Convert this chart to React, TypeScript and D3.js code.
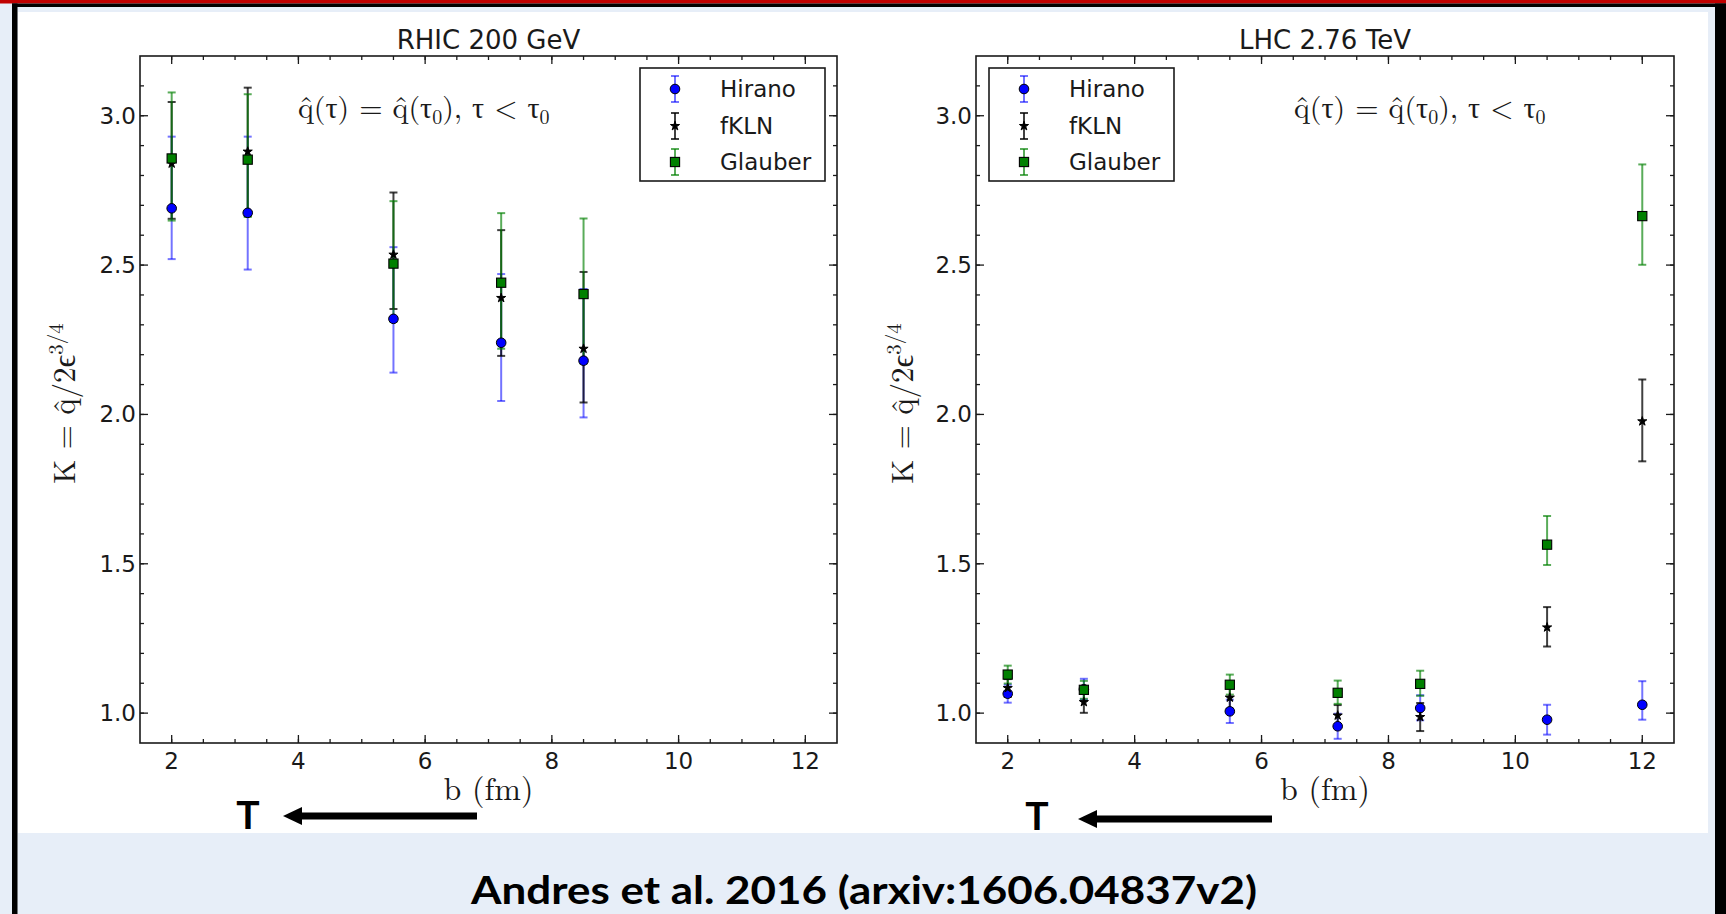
import React from 'react';
import * as d3 from 'd3';

const W = 1726;
const H = 914;

// impact parameter values (fm)
const bRHIC = [2, 3.2, 5.5, 7.2, 8.5];
const bLHC = [2, 3.2, 5.5, 7.2, 8.5, 10.5, 12];

// RHIC 200 GeV
const hiranoRHIC = [2.69, 2.675, 2.32, 2.24, 2.18];
const hiranoRHICLo = [2.52, 2.485, 2.14, 2.045, 1.99];
const hiranoRHICHi = [2.93, 2.93, 2.56, 2.47, 2.42];
const fklnRHIC = [2.84, 2.88, 2.535, 2.39, 2.22];
const fklnRHICLo = [2.655, 2.665, 2.353, 2.196, 2.04];
const fklnRHICHi = [3.046, 3.094, 2.743, 2.617, 2.477];
const glauberRHIC = [2.857, 2.853, 2.505, 2.441, 2.403];
const glauberRHICLo = [2.649, 2.661, 2.31, 2.22, 2.17];
const glauberRHICHi = [3.078, 3.072, 2.714, 2.674, 2.656];

// LHC 2.76 TeV
const hiranoLHC = [1.065, 1.08, 1.006, 0.956, 1.017, 0.978, 1.028];
const hiranoLHCLo = [1.035, 1.045, 0.967, 0.914, 0.976, 0.928, 0.978];
const hiranoLHCHi = [1.095, 1.115, 1.045, 0.998, 1.06, 1.028, 1.107];
const fklnLHC = [1.084, 1.037, 1.052, 0.992, 0.987, 1.287, 1.977];
const fklnLHCLo = [1.054, 1.001, 1.015, 0.957, 0.94, 1.223, 1.843];
const fklnLHCHi = [1.114, 1.073, 1.089, 1.027, 1.034, 1.355, 2.117];
const glauberLHC = [1.129, 1.078, 1.095, 1.068, 1.098, 1.564, 2.664];
const glauberLHCLo = [1.099, 1.048, 1.062, 1.031, 1.058, 1.496, 2.501];
const glauberLHCHi = [1.159, 1.108, 1.129, 1.109, 1.142, 1.66, 2.837];

const xMajorTicks = [2, 4, 6, 8, 10, 12];
const yMajorTicks = [1.0, 1.5, 2.0, 2.5, 3.0];
const seriesNames = ['Hirano', 'fKLN', 'Glauber'];
const seriesColors = ['#0000ff', '#000000', '#008000'];
const seriesMarkers = ['circle', 'star', 'square'];
const panelTitles = ['RHIC 200 GeV', 'LHC 2.76 TeV'];
const citation = 'Andres et al. 2016 (arxiv:1606.04837v2)';

const xDomain = [1.5, 12.5];
const yDomain = [0.9, 3.2];
const plotTop = 56;
const plotBottom = 743;

const sans = "'DejaVu Sans', Verdana, sans-serif";
const serif = "'Latin Modern Roman', 'CMU Serif', 'Liberation Serif', 'DejaVu Serif', serif";

type Series = { xs: number[]; ys: number[]; lo: number[]; hi: number[] };

const panels = [
  {
    title: panelTitles[0],
    left: 140,
    right: 837,
    legendLeft: false,
    ylabelX: 75,
    annX: 298,
    series: [
      { xs: bRHIC, ys: hiranoRHIC, lo: hiranoRHICLo, hi: hiranoRHICHi },
      { xs: bRHIC, ys: fklnRHIC, lo: fklnRHICLo, hi: fklnRHICHi },
      { xs: bRHIC, ys: glauberRHIC, lo: glauberRHICLo, hi: glauberRHICHi },
    ] as Series[],
  },
  {
    title: panelTitles[1],
    left: 976,
    right: 1674,
    legendLeft: true,
    ylabelX: 913,
    annX: 1294,
    series: [
      { xs: bLHC, ys: hiranoLHC, lo: hiranoLHCLo, hi: hiranoLHCHi },
      { xs: bLHC, ys: fklnLHC, lo: fklnLHCLo, hi: fklnLHCHi },
      { xs: bLHC, ys: glauberLHC, lo: glauberLHCLo, hi: glauberLHCHi },
    ] as Series[],
  },
];

const lineOpacity = [0.55, 0.75, 0.65];

function Marker({ kind, cx, cy, color }: { kind: string; cx: number; cy: number; color: string }) {
  if (kind === 'circle') {
    return <circle cx={cx} cy={cy} r={4.8} fill={color} stroke="#000" strokeWidth={1} />;
  }
  if (kind === 'square') {
    return <rect x={cx - 4.6} y={cy - 4.6} width={9.2} height={9.2} fill={color} stroke="#000" strokeWidth={1.1} />;
  }
  const path = d3.symbol().type(d3.symbolStar).size(26)();
  return <path d={path || ''} transform={`translate(${cx},${cy})`} fill="#000" stroke="#000" strokeWidth={1} />;
}

function ErrorBar({ x, yTop, yBot, color, opacity }: { x: number; yTop: number; yBot: number; color: string; opacity: number }) {
  return (
    <g stroke={color} strokeWidth={2} strokeOpacity={opacity}>
      <line x1={x} x2={x} y1={yTop} y2={yBot} />
      <line x1={x - 4} x2={x + 4} y1={yTop} y2={yTop} />
      <line x1={x - 4} x2={x + 4} y1={yBot} y2={yBot} />
    </g>
  );
}

function Panel({ p }: { p: (typeof panels)[number] }) {
  const x = d3.scaleLinear().domain(xDomain).range([p.left, p.right]);
  const y = d3.scaleLinear().domain(yDomain).range([plotBottom, plotTop]);
  const xMinor = d3.range(2, 12.01, 0.5);
  const yMinor = d3.range(1.0, 3.15, 0.1);
  const fmt = d3.format('.1f');
  const cx = (p.left + p.right) / 2;
  const bx = p.legendLeft ? p.left + 13 : p.right - 12 - 185;
  const rows = [89, 126, 162];

  return (
    <g>
      {p.series.map((s, si) => (
        <g key={`e${si}`}>
          {s.xs.map((b, i) => (
            <ErrorBar key={i} x={x(b)} yTop={y(s.hi[i])} yBot={y(s.lo[i])} color={seriesColors[si]} opacity={lineOpacity[si]} />
          ))}
        </g>
      ))}
      {p.series.map((s, si) => (
        <g key={`m${si}`}>
          {s.xs.map((b, i) => (
            <Marker key={i} kind={seriesMarkers[si]} cx={x(b)} cy={y(s.ys[i])} color={seriesColors[si]} />
          ))}
        </g>
      ))}

      <rect x={p.left} y={plotTop} width={p.right - p.left} height={plotBottom - plotTop} fill="none" stroke="#1a1a1a" strokeWidth={1.6} />
      <g stroke="#1a1a1a" strokeWidth={1.3}>
        {xMinor.map((t) => (
          <g key={`xm${t}`}>
            <line x1={x(t)} x2={x(t)} y1={plotBottom} y2={plotBottom - 4} />
            <line x1={x(t)} x2={x(t)} y1={plotTop} y2={plotTop + 4} />
          </g>
        ))}
        {xMajorTicks.map((t) => (
          <g key={`xM${t}`}>
            <line x1={x(t)} x2={x(t)} y1={plotBottom} y2={plotBottom - 8} />
            <line x1={x(t)} x2={x(t)} y1={plotTop} y2={plotTop + 8} />
          </g>
        ))}
        {yMinor.map((t) => (
          <g key={`ym${t.toFixed(1)}`}>
            <line x1={p.left} x2={p.left + 4} y1={y(t)} y2={y(t)} />
            <line x1={p.right} x2={p.right - 4} y1={y(t)} y2={y(t)} />
          </g>
        ))}
        {yMajorTicks.map((t) => (
          <g key={`yM${t}`}>
            <line x1={p.left} x2={p.left + 8} y1={y(t)} y2={y(t)} />
            <line x1={p.right} x2={p.right - 8} y1={y(t)} y2={y(t)} />
          </g>
        ))}
      </g>
      <g fontFamily={sans} fontSize={23} fill="#1a1a1a">
        {xMajorTicks.map((t) => (
          <text key={`xl${t}`} x={x(t)} y={plotBottom + 26} textAnchor="middle">{t}</text>
        ))}
        {yMajorTicks.map((t) => (
          <text key={`yl${t}`} x={p.left - 4} y={y(t) + 8} textAnchor="end">{fmt(t)}</text>
        ))}
      </g>
      <text x={cx} y={49} textAnchor="middle" fontFamily={sans} fontSize={26} fill="#1a1a1a">{p.title}</text>
      <text x={cx} y={800} textAnchor="middle" fontFamily={serif} fontSize={32} fill="#1a1a1a">b (fm)</text>
      <text transform={`translate(${p.ylabelX},${(plotTop + plotBottom) / 2 + 4}) rotate(-90)`} textAnchor="middle" fontFamily={serif} fontSize={31} fill="#1a1a1a">
        K = q̂/2ϵ<tspan fontSize={21} dy={-12}>3/4</tspan>
      </text>
      <text x={p.annX} y={118} fontFamily={serif} fontSize={30} fill="#1a1a1a">
        q̂(τ) = q̂(τ<tspan fontSize={20} dy={6}>0</tspan><tspan dy={-6}>), τ &lt; τ</tspan><tspan fontSize={20} dy={6}>0</tspan>
      </text>
      <rect x={bx} y={68} width={185} height={113} fill="#fff" stroke="#1a1a1a" strokeWidth={1.6} />
      {seriesNames.map((n, si) => (
        <g key={n}>
          <ErrorBar x={bx + 35} yTop={rows[si] - 13} yBot={rows[si] + 13} color={seriesColors[si]} opacity={lineOpacity[si]} />
          <Marker kind={seriesMarkers[si]} cx={bx + 35} cy={rows[si]} color={seriesColors[si]} />
          <text x={bx + 80} y={rows[si] + 8} fontFamily={sans} fontSize={23} fill="#1a1a1a">{n}</text>
        </g>
      ))}
    </g>
  );
}

function Arrow({ tail, tip, y }: { tail: number; tip: number; y: number }) {
  return (
    <g fill="#000">
      <rect x={tip + 16} y={y - 3.5} width={tail - tip - 16} height={7} />
      <path d={`M${tip},${y} L${tip + 19},${y - 9} L${tip + 19},${y + 9} Z`} />
    </g>
  );
}

export default function App() {
  return (
    <div style={{ position: 'fixed', left: 0, top: 0 }}>
      <svg width={W} height={H} viewBox={`0 0 ${W} ${H}`} style={{ display: 'block' }}>
        <rect x={0} y={0} width={W} height={H} fill="#e7eef8" />
        <rect x={18} y={12} width={1690} height={821} fill="#ffffff" />
        {panels.map((p, i) => (
          <Panel key={i} p={p} />
        ))}
        <text x={248} y={829} textAnchor="middle" fontFamily="Lato, 'Open Sans', sans-serif" fontWeight={700} fontSize={39} fill="#000">T</text>
        <Arrow tail={477} tip={283} y={816} />
        <text x={1037} y={830} textAnchor="middle" fontFamily="Lato, 'Open Sans', sans-serif" fontWeight={700} fontSize={39} fill="#000">T</text>
        <Arrow tail={1272} tip={1078} y={819} />
        <rect x={17} y={833} width={1698} height={81} fill="#e7eef8" />
        <text x={864} y={904} textAnchor="middle" fontFamily="Lato, 'Open Sans', sans-serif" fontWeight={700} fontSize={39} fill="#000" textLength={786} lengthAdjust="spacingAndGlyphs">{citation}</text>
        <rect x={0} y={0} width={W} height={3.5} fill="#c00000" />
        <rect x={12} y={3.5} width={W - 12} height={3.5} fill="#000" />
        <rect x={12} y={3.5} width={5.5} height={H - 3.5} fill="#000" />
        <rect x={1715} y={3.5} width={11} height={H - 3.5} fill="#000" />
      </svg>
    </div>
  );
}
